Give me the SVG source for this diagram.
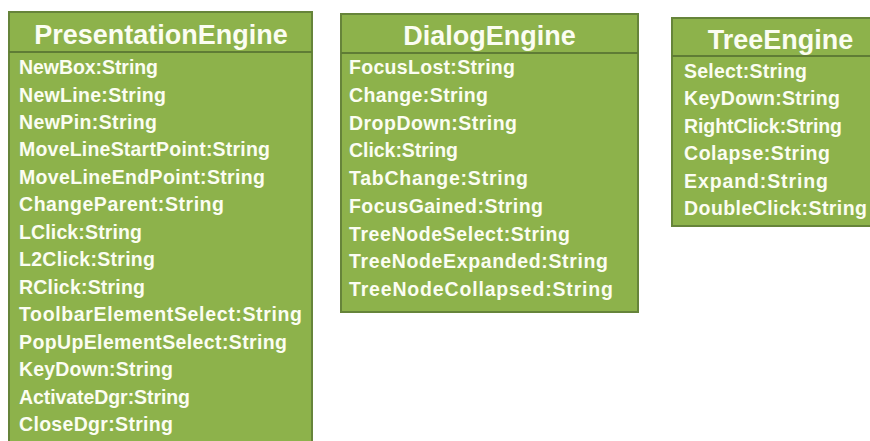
<svg xmlns="http://www.w3.org/2000/svg" width="870" height="441" viewBox="0 0 870 441">
  <style>
    .box { fill: #8db24b; stroke: #66843a; stroke-width: 2; }
    .sep { stroke: #5f7c35; stroke-width: 2; }
    .title { font-family: "Liberation Sans", Arial, sans-serif; font-weight: bold; font-size: 27px; fill: #fbfdf2; text-anchor: middle; }
    .attr { font-family: "Liberation Sans", Arial, sans-serif; font-weight: bold; font-size: 19.5px; fill: #fbfdf2; }
  </style>
  <rect width="870" height="441" fill="#ffffff"/>

  <!-- PresentationEngine class -->
  <g id="presentation-engine">
    <rect class="box" x="9" y="12" width="303" height="440"/>
    <line class="sep" x1="9" y1="52" x2="312" y2="52"/>
    <text class="title" x="161" y="44">PresentationEngine</text>
    <text class="attr" x="19" y="74" textLength="139" lengthAdjust="spacing">NewBox:String</text>
    <text class="attr" x="19" y="101.5" textLength="147" lengthAdjust="spacing">NewLine:String</text>
    <text class="attr" x="19" y="128.9" textLength="138" lengthAdjust="spacing">NewPin:String</text>
    <text class="attr" x="19" y="156.4" textLength="251" lengthAdjust="spacing">MoveLineStartPoint:String</text>
    <text class="attr" x="19" y="183.8" textLength="246" lengthAdjust="spacing">MoveLineEndPoint:String</text>
    <text class="attr" x="19" y="211.3" textLength="205" lengthAdjust="spacing">ChangeParent:String</text>
    <text class="attr" x="19" y="238.8" textLength="123" lengthAdjust="spacing">LClick:String</text>
    <text class="attr" x="19" y="266.2" textLength="136" lengthAdjust="spacing">L2Click:String</text>
    <text class="attr" x="19" y="293.7" textLength="126" lengthAdjust="spacing">RClick:String</text>
    <text class="attr" x="19" y="321.1" textLength="283" lengthAdjust="spacing">ToolbarElementSelect:String</text>
    <text class="attr" x="19" y="348.6" textLength="268" lengthAdjust="spacing">PopUpElementSelect:String</text>
    <text class="attr" x="19" y="376" textLength="154" lengthAdjust="spacing">KeyDown:String</text>
    <text class="attr" x="19" y="403.5" textLength="171" lengthAdjust="spacing">ActivateDgr:String</text>
    <text class="attr" x="19" y="431" textLength="154" lengthAdjust="spacing">CloseDgr:String</text>
  </g>

  <!-- DialogEngine class -->
  <g id="dialog-engine">
    <rect class="box" x="341" y="14" width="297" height="298"/>
    <line class="sep" x1="341" y1="53" x2="638" y2="53"/>
    <text class="title" x="489.5" y="45">DialogEngine</text>
    <text class="attr" x="349" y="74" textLength="166" lengthAdjust="spacing">FocusLost:String</text>
    <text class="attr" x="349" y="101.8" textLength="139" lengthAdjust="spacing">Change:String</text>
    <text class="attr" x="349" y="129.5" textLength="168" lengthAdjust="spacing">DropDown:String</text>
    <text class="attr" x="349" y="157.3" textLength="109" lengthAdjust="spacing">Click:String</text>
    <text class="attr" x="349" y="185" textLength="179" lengthAdjust="spacing">TabChange:String</text>
    <text class="attr" x="349" y="212.8" textLength="194" lengthAdjust="spacing">FocusGained:String</text>
    <text class="attr" x="349" y="240.5" textLength="221" lengthAdjust="spacing">TreeNodeSelect:String</text>
    <text class="attr" x="349" y="268.3" textLength="259" lengthAdjust="spacing">TreeNodeExpanded:String</text>
    <text class="attr" x="349" y="296" textLength="264" lengthAdjust="spacing">TreeNodeCollapsed:String</text>
  </g>

  <!-- TreeEngine class -->
  <g id="tree-engine">
    <rect class="box" x="672" y="18" width="217" height="208"/>
    <line class="sep" x1="672" y1="56" x2="889" y2="56"/>
    <text class="title" x="780.5" y="49">TreeEngine</text>
    <text class="attr" x="684" y="78" textLength="123" lengthAdjust="spacing">Select:String</text>
    <text class="attr" x="684" y="105.4" textLength="156" lengthAdjust="spacing">KeyDown:String</text>
    <text class="attr" x="684" y="132.8" textLength="158" lengthAdjust="spacing">RightClick:String</text>
    <text class="attr" x="684" y="160.2" textLength="146" lengthAdjust="spacing">Colapse:String</text>
    <text class="attr" x="684" y="187.6" textLength="144" lengthAdjust="spacing">Expand:String</text>
    <text class="attr" x="684" y="215" textLength="183" lengthAdjust="spacing">DoubleClick:String</text>
  </g>

  <!-- no connectors between the classes -->
  <g id="connectors"/>
</svg>
